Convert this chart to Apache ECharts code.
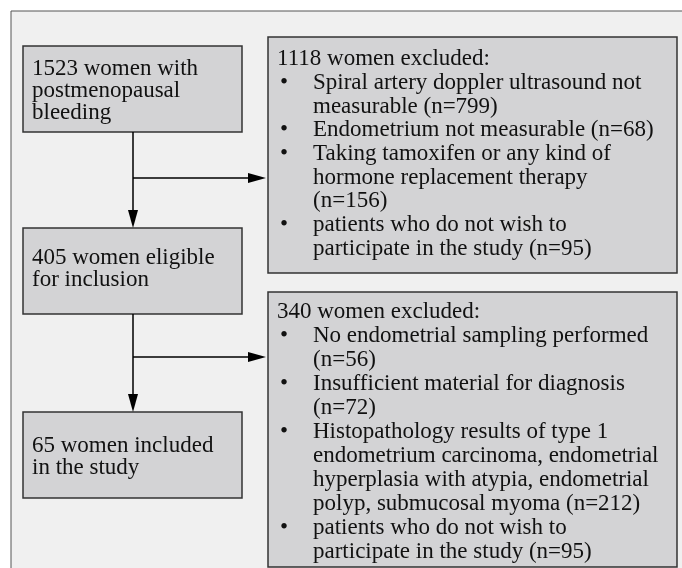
<!DOCTYPE html>
<html>
<head>
<meta charset="utf-8">
<script src="https://cdn.jsdelivr.net/npm/echarts@6/dist/echarts.min.js"></script>
<style>
  html, body { margin: 0; padding: 0; background: #fff; }
  #main { width: 682px; height: 568px; }
</style>
</head>
<body>
<div id="main"></div>
<script>
// flowchart data
var stageCounts = [1523, 405, 65];
var stageLabels = [
    '{n} women with\npostmenopausal\nbleeding',
    '{n} women eligible\nfor inclusion',
    '{n} women included\nin the study'
];
var excludedCounts = [1118, 340];
var excl1Reasons = [
    'Spiral artery doppler ultrasound not\nmeasurable (n={n})',
    'Endometrium not measurable (n={n})',
    'Taking tamoxifen or any kind of\nhormone replacement therapy\n(n={n})',
    'patients who do not wish to\nparticipate in the study (n={n})'
];
var excl1Counts = [799, 68, 156, 95];
var excl2Reasons = [
    'No endometrial sampling performed\n(n={n})',
    'Insufficient material for diagnosis\n(n={n})',
    'Histopathology results of type 1\nendometrium carcinoma, endometrial\nhyperplasia with atypia, endometrial\npolyp, submucosal myoma (n={n})',
    'patients who do not wish to\nparticipate in the study (n={n})'
];
var excl2Counts = [56, 72, 212, 95];

var FONT = '"Liberation Serif", "DejaVu Serif", serif';
var FSIZE = 23;
var boxFill = '#d3d3d5';
var boxStroke = '#333';

var myChart = echarts.init(document.getElementById('main'));
var els = [];

// outer frame
els.push({
    type: 'rect', shape: {x: 11, y: 11, width: 720, height: 620},
    style: {fill: '#f0f0f0', stroke: '#555', lineWidth: 1}
});

// left boxes
var leftBoxes = [
    {y: 46, h: 86, textY: 58},
    {y: 228, h: 86, textY: 246.5},
    {y: 412, h: 86, textY: 434.5}
];
for (var i = 0; i < stageCounts.length; i++) {
    var b = leftBoxes[i];
    els.push({
        type: 'rect', shape: {x: 23, y: b.y, width: 219, height: b.h},
        style: {fill: boxFill, stroke: boxStroke, lineWidth: 1.5}
    });
    els.push({
        type: 'text', x: 32, y: b.textY,
        style: {
            text: stageLabels[i].replace('{n}', stageCounts[i]),
            font: FSIZE + 'px ' + FONT, lineHeight: 22,
            fill: '#111', verticalAlign: 'top'
        }
    });
}

// arrows
function arrowDown(x, y1, y2) {
    els.push({type: 'line', shape: {x1: x, y1: y1, x2: x, y2: y2 - 16}, style: {stroke: '#000', lineWidth: 1.5}});
    els.push({type: 'polygon', shape: {points: [[x - 5, y2 - 18], [x + 5, y2 - 18], [x, y2]]}, style: {fill: '#000'}});
}
function arrowRight(x1, x2, y) {
    els.push({type: 'line', shape: {x1: x1, y1: y, x2: x2 - 16, y2: y}, style: {stroke: '#000', lineWidth: 1.5}});
    els.push({type: 'polygon', shape: {points: [[x2 - 18, y - 5], [x2 - 18, y + 5], [x2, y]]}, style: {fill: '#000'}});
}
arrowDown(133, 132, 228);
arrowRight(133, 266, 178);
arrowDown(133, 314, 412);
arrowRight(133, 266, 357);

// exclusion boxes
function exclBox(y, h, count, reasons, counts, top, lh) {
    els.push({
        type: 'rect', shape: {x: 268, y: y, width: 409, height: h},
        style: {fill: boxFill, stroke: boxStroke, lineWidth: 1.5}
    });
    var font = FSIZE + 'px ' + FONT;
    els.push({
        type: 'text', x: 277, y: top,
        style: {text: count + ' women excluded:', font: font, lineHeight: lh, fill: '#111', verticalAlign: 'top'}
    });
    var line = 1;
    for (var k = 0; k < reasons.length; k++) {
        var txt = reasons[k].replace('{n}', counts[k]);
        els.push({
            type: 'text', x: 280, y: top + line * lh,
            style: {text: '\u2022', font: font, lineHeight: lh, fill: '#111', verticalAlign: 'top'}
        });
        els.push({
            type: 'text', x: 313, y: top + line * lh,
            style: {text: txt, font: font, lineHeight: lh, fill: '#111', verticalAlign: 'top'}
        });
        line += txt.split('\n').length;
    }
}
exclBox(37, 236, excludedCounts[0], excl1Reasons, excl1Counts, 47.5, 23.65);
exclBox(292, 275, excludedCounts[1], excl2Reasons, excl2Counts, 299.5, 24);

option = {
    backgroundColor: '#fff',
    graphic: {elements: els}
};
myChart.setOption(option);
</script>
</body>
</html>
